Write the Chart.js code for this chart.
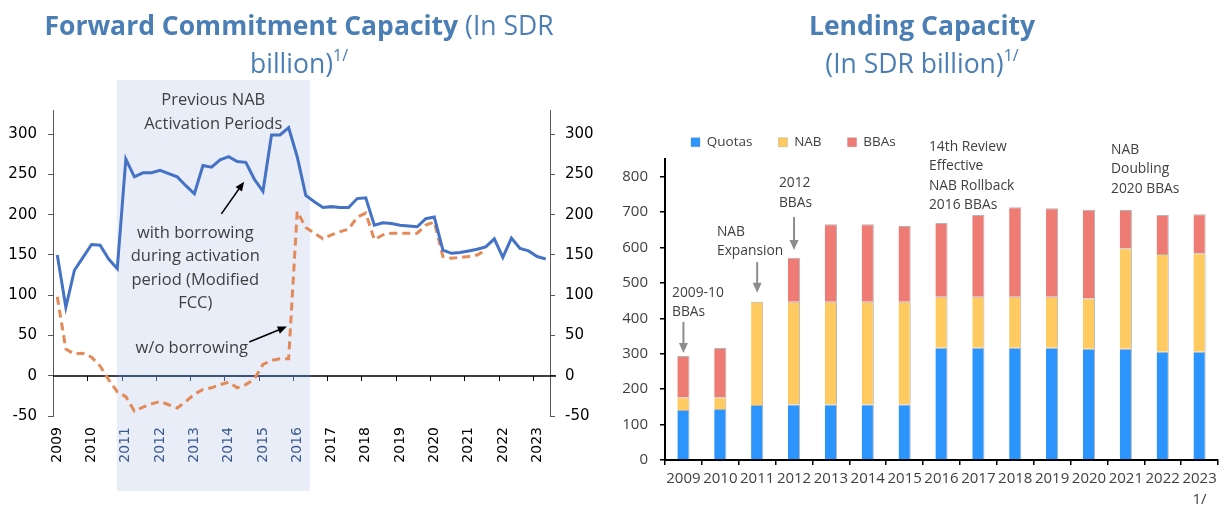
<!DOCTYPE html>
<html>
<head>
<meta charset="utf-8">
<script src="https://cdn.jsdelivr.net/npm/chart.js@4.4.0/dist/chart.umd.min.js"></script>
<style>
  body { margin: 0; width: 1225px; height: 508px; background: #fff; position: relative; overflow: hidden; }
  .panel { position: absolute; top: 0; height: 508px; }
  #fccPanel { left: 0; width: 612px; }
  #lendPanel { left: 612px; width: 613px; }
  .title { position: absolute; top: 6px; text-align: center; color: #4a7eb4; font-family: 'Open Sans', sans-serif; font-size: 26.5px; line-height: 38px; z-index: 2; white-space: nowrap; }
  .title b { font-weight: 700; }
  .title sup { font-size: 16px; vertical-align: 0; position: relative; top: -12px; }
  #fccPanel .title { left: 0; width: 598px; }
  #lendPanel .title { left: 0; width: 620px; }
  canvas { position: absolute; left: 0; top: 0; }
</style>
</head>
<body>
<div class="panel" id="fccPanel">
  <div class="title"><b>Forward Commitment Capacity</b> (In SDR<br>billion)<sup>1/</sup></div>
  <canvas id="fccChart" width="612" height="508"></canvas>
</div>
<div class="panel" id="lendPanel">
  <div class="title"><b>Lending Capacity</b><br>(In SDR billion)<sup>1/</sup></div>
  <canvas id="lendChart" width="613" height="508"></canvas>
</div>
<script>
const years = ['2009', '2010', '2011', '2012', '2013', '2014', '2015', '2016',
  '2017', '2018', '2019', '2020', '2021', '2022', '2023'];

// quarterly FCC, 2009Q1 .. 2023Q2
const quarters = years.flatMap(y => ['Q1', 'Q2', 'Q3', 'Q4'].map(q => y + q)).slice(0, 58);

const fccModified = [
  150, 85, 131, 147, 163, 162, 145, 133,
  269, 247, 252, 252, 255, 251, 247, 236,
  226, 261, 259, 268, 272, 266, 265, 244,
  229, 299, 299, 308, 272, 224, 216, 209,
  210, 209, 209, 220, 221, 187, 190, 189,
  187, 186, 185, 195, 197, 156, 152, 153,
  155, 157, 160, 170, 147, 171, 158, 155,
  148, 145
];
const fccNoBorrowing = [
  98, 33, 27, 28, 23, 12, -5, -20,
  -26, -44, -39, -35, -32, -36, -40, -32,
  -23, -17, -15, -11, -8, -15, -11, -4,
  14, 19, 21, 21, 204, 184, 177, 170,
  175, 179, 182, 197, 202, 169, 175, 177,
  177, 177, 177, 187, 191, 148, 146, 147,
  148, 150, 156, null, null, null, null, null,
  null, null
];

// lending capacity by year
const quotas = [141, 144, 155, 157, 157, 157, 157, 317, 317, 317, 317, 314, 314, 306, 306];
const nab = [36, 33, 292, 290, 290, 290, 290, 144, 144, 144, 144, 143, 284, 276, 278];
const bbas = [117, 139, 0, 124, 219, 219, 214, 208, 231, 253, 250, 250, 108, 110, 110];
const lastYearNote = '1/';

// activation periods band, in quarter index / value units
const activationBand = { from: 6.95, to: 29.5, top: 367, bottom: -143 };
const inBand = i => i > activationBand.from && i < activationBand.to;

const fccNotes = [
  { x: 18.2, y: 342, lines: ['Previous NAB', 'Activation Periods'] },
  { x: 16.1, y: 177, lines: ['with borrowing', 'during activation', 'period (Modified', 'FCC)'] },
  { x: 15.7, y: 33.5, lines: ['w/o borrowing'] }
];
const fccArrows = [
  { from: [19.15, 201], to: [21.8, 241] },
  { from: [22.4, 42], to: [26.8, 61] }
];

const lendNotes = [
  { x: -0.31, y: 472, lines: ['2009-10', 'BBAs'] },
  { x: 0.91, y: 644, lines: ['NAB', 'Expansion'] },
  { x: 2.59, y: 782, lines: ['2012', 'BBAs'] },
  { x: 6.66, y: 884, lines: ['14th Review', 'Effective', 'NAB Rollback', '2016 BBAs'] },
  { x: 11.6, y: 876, lines: ['NAB', 'Doubling', '2020 BBAs'] }
];
const lendArrows = [
  { from: [0, 390], to: [0, 302] },
  { from: [2, 559], to: [2, 472] },
  { from: [3, 686], to: [3, 593] }
];

const BAND_INK = '#3b5b8e';

const drawArrow = (ctx, x1, y1, x2, y2, color, width, head, spread) => {
  const a = Math.atan2(y2 - y1, x2 - x1);
  ctx.save();
  ctx.strokeStyle = color;
  ctx.fillStyle = color;
  ctx.lineWidth = width;
  ctx.beginPath();
  ctx.moveTo(x1, y1);
  ctx.lineTo(x2 - Math.cos(a) * head * 0.7, y2 - Math.sin(a) * head * 0.7);
  ctx.stroke();
  ctx.beginPath();
  ctx.moveTo(x2, y2);
  ctx.lineTo(x2 - head * Math.cos(a - spread), y2 - head * Math.sin(a - spread));
  ctx.lineTo(x2 - head * Math.cos(a + spread), y2 - head * Math.sin(a + spread));
  ctx.closePath();
  ctx.fill();
  ctx.restore();
}

const drawNotes = (ctx, xScale, yScale, notes, font, color, align, lineGap) => {
  ctx.save();
  ctx.font = font;
  ctx.fillStyle = color;
  ctx.textAlign = align;
  ctx.textBaseline = 'middle';
  notes.forEach(n => {
    const x = xScale.getPixelForValue(n.x);
    const y = yScale.getPixelForValue(n.y);
    n.lines.forEach((line, i) => ctx.fillText(line, x, y + i * lineGap));
  });
  ctx.restore();
}

const fccDecor = {
  id: 'fccDecor',
  beforeDraw(chart) {
    const { ctx, scales: { x, y } } = chart;
    const left = x.getPixelForValue(activationBand.from);
    const right = x.getPixelForValue(activationBand.to);
    const top = y.getPixelForValue(activationBand.top);
    const bottom = y.getPixelForValue(activationBand.bottom);
    ctx.save();
    ctx.fillStyle = '#e8edf7';
    ctx.fillRect(left, top, right - left, bottom - top);
    ctx.restore();
  },
  beforeDatasetsDraw(chart) {
    // zero line with a tick at the start of every year
    const { ctx, chartArea, scales: { x, y } } = chart;
    const y0 = Math.round(y.getPixelForValue(0));
    const bandL = x.getPixelForValue(activationBand.from);
    const bandR = x.getPixelForValue(activationBand.to);
    ctx.save();
    ctx.lineWidth = 1.5;
    ctx.strokeStyle = '#000';
    ctx.beginPath();
    ctx.moveTo(chartArea.left, y0);
    ctx.lineTo(chartArea.right + 6, y0);
    ctx.stroke();
    ctx.strokeStyle = BAND_INK;
    ctx.beginPath();
    ctx.moveTo(bandL, y0);
    ctx.lineTo(bandR, y0);
    ctx.stroke();
    ctx.lineWidth = 1;
    quarters.forEach((q, i) => {
      if (i === 0 || i % 4 !== 0) return;
      const px = Math.round(x.getPixelForValue(i - 0.5)) + 0.5;
      ctx.strokeStyle = inBand(i) ? BAND_INK : '#000';
      ctx.beginPath();
      ctx.moveTo(px, y0);
      ctx.lineTo(px, y0 + 5);
      ctx.stroke();
    });
    ctx.restore();
  },
  afterDraw(chart) {
    const { ctx, scales: { x, y } } = chart;
    drawNotes(ctx, x, y, fccNotes.slice(0, 1), '16.5px "Open Sans"', '#404040', 'center', 24);
    drawNotes(ctx, x, y, fccNotes.slice(1), '16.5px "Open Sans"', '#404040', 'center', 23.5);
    fccArrows.forEach(a => drawArrow(ctx,
      x.getPixelForValue(a.from[0]), y.getPixelForValue(a.from[1]),
      x.getPixelForValue(a.to[0]), y.getPixelForValue(a.to[1]), '#000', 1.6, 10, 0.4));
  }
};

const lendDecor = {
  id: 'lendDecor',
  afterDraw(chart) {
    const { ctx, scales: { x, y } } = chart;
    drawNotes(ctx, x, y, lendNotes, '13.8px "Open Sans"', '#404040', 'left', 19.5);
    lendArrows.forEach(a => drawArrow(ctx,
      x.getPixelForValue(a.from[0]), y.getPixelForValue(a.from[1]),
      x.getPixelForValue(a.to[0]), y.getPixelForValue(a.to[1]), '#8c8c8c', 2, 11, 0.42));
  }
};

const keepEvery = step => scale => {
  scale.ticks = scale.ticks.filter(t => t.value % step === 0);
};

const fccAxisFont = { family: 'DejaVu Sans', size: 15 };

new Chart(document.getElementById('fccChart'), {
  type: 'line',
  data: {
    labels: quarters,
    datasets: [
      {
        label: 'with borrowing during activation period (Modified FCC)',
        data: fccModified,
        borderColor: '#4472c4',
        borderWidth: 3,
        pointRadius: 0,
        tension: 0
      },
      {
        label: 'w/o borrowing',
        data: fccNoBorrowing,
        borderColor: '#e28a58',
        borderWidth: 3,
        borderDash: [8, 5],
        pointRadius: 0,
        tension: 0,
        spanGaps: false
      }
    ]
  },
  options: {
    responsive: false,
    animation: false,
    layout: { padding: { top: 110, left: 0, right: 0, bottom: 0 } },
    plugins: { legend: { display: false }, tooltip: { enabled: false } },
    scales: {
      x: {
        offset: true,
        grid: { display: false },
        border: { display: false },
        ticks: {
          autoSkip: false,
          minRotation: 90,
          maxRotation: 90,
          padding: 3,
          color: c => (inBand(c.index) ? BAND_INK : '#000'),
          font: { family: 'DejaVu Sans', size: 14 },
          callback: function (v) {
            const l = this.getLabelForValue(v);
            return l.endsWith('Q1') ? l.slice(0, 4) : '';
          }
        },
        afterFit: s => { s.height = 92; }
      },
      y: {
        position: 'left',
        min: -50,
        max: 330,
        ticks: { stepSize: 50, padding: 11, color: '#000', font: fccAxisFont },
        grid: { drawOnChartArea: false, tickLength: 5, color: '#595959' },
        border: { color: '#595959', width: 1 },
        afterBuildTicks: keepEvery(50),
        afterFit: s => { s.width = 53; }
      },
      y2: {
        position: 'right',
        min: -50,
        max: 330,
        ticks: { stepSize: 50, padding: 10, color: '#000', font: fccAxisFont },
        grid: { drawOnChartArea: false, tickLength: 5, color: '#595959' },
        border: { color: '#595959', width: 1 },
        afterBuildTicks: keepEvery(50),
        afterFit: s => { s.width = 62; }
      }
    }
  },
  plugins: [fccDecor]
});

const lendFont = { family: 'Open Sans', size: 15, lineHeight: 1.4 };
const barBorder = { top: 1, right: 1, bottom: 0, left: 0 };

new Chart(document.getElementById('lendChart'), {
  type: 'bar',
  data: {
    labels: years,
    datasets: [
      { label: 'Quotas', data: quotas, backgroundColor: '#2b94fd', borderColor: 'rgba(130,130,130,0.6)', borderWidth: barBorder },
      { label: 'NAB', data: nab, backgroundColor: '#ffcb60', borderColor: 'rgba(130,130,130,0.6)', borderWidth: barBorder },
      { label: 'BBAs', data: bbas, backgroundColor: '#ee7b74', borderColor: 'rgba(130,130,130,0.6)', borderWidth: barBorder }
    ]
  },
  options: {
    responsive: false,
    animation: false,
    barPercentage: 0.33,
    categoryPercentage: 1,
    layout: { padding: { top: 109.5, left: 0, right: 7, bottom: 0 } },
    plugins: {
      legend: {
        position: 'top',
        align: 'start',
        fullSize: false,
        labels: {
          boxWidth: 9,
          boxHeight: 9,
          padding: 26,
          color: '#404040',
          font: { family: 'Open Sans', size: 13.5 }
        }
      },
      tooltip: { enabled: false }
    },
    scales: {
      x: {
        stacked: true,
        grid: { offset: true, drawOnChartArea: false, tickLength: 5, color: '#000', lineWidth: 1.5 },
        border: { color: '#000', width: 2 },
        ticks: {
          autoSkip: false,
          maxRotation: 0,
          padding: 3,
          color: '#404040',
          font: lendFont,
          callback: (v, i) => (i === years.length - 1 ? [years[i], lastYearNote] : years[i])
        },
        afterFit: s => { s.height = 48; }
      },
      y: {
        stacked: true,
        min: 0,
        max: 850,
        ticks: { stepSize: 100, padding: 12, color: '#404040', font: { family: 'Open Sans', size: 15 } },
        grid: { drawOnChartArea: false, tickLength: 5, color: '#000', lineWidth: 1.5 },
        border: { color: '#000', width: 2 },
        afterBuildTicks: keepEvery(100),
        afterFit: s => { s.width = 53; }
      }
    }
  },
  plugins: [lendDecor]
});
</script>
</body>
</html>
